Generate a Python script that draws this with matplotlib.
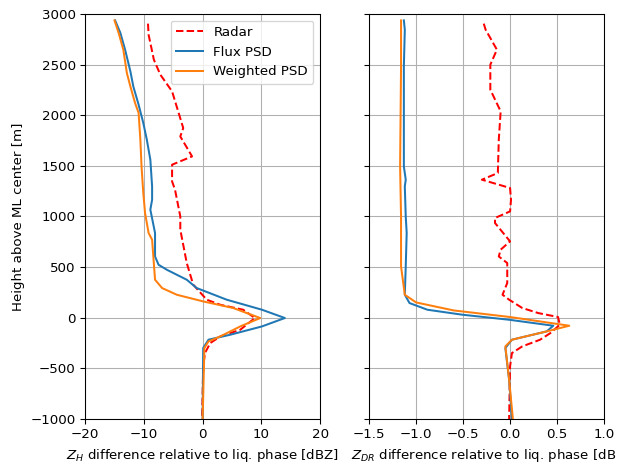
import numpy as np
import matplotlib
matplotlib.use("Agg")
import matplotlib.pyplot as plt

# ZH panel (dBZ)
h_radar_zh = [2904, 2795, 2548, 2400, 2301, 2235, 1873, 1790, 1593, 1511, 1346, 1264, 1000,
              869, 540, 326, 178, 128, 79, -3, -119, -185, -250, -349, -481, -1000]
radar_zh = [-9.3, -9.2, -8.3, -7.2, -6.0, -5.2, -3.3, -3.8, -1.8, -5.2, -5.2, -4.7, -3.8,
            -3.8, -2.7, -1.6, 0.7, 3.0, 6.9, 8.9, 6.4, 3.0, 1.3, 0.4, 0.1, -0.1]

h_flux_zh = [2936, 2812, 2647, 2433, 2284, 2104, 1923, 1758, 1560, 1297, 1165, 1067, 837,
             605, 523, 474, 375, 293, 178, 79, -3, -86, -168, -217, -299, -1000]
flux_zh = [-14.9, -14.0, -13.2, -12.3, -11.8, -10.9, -10.1, -9.5, -8.9, -8.6, -8.6, -8.9, -8.1,
           -8.1, -7.5, -6.1, -2.7, -1.0, 4.1, 10.1, 14.0, 10.1, 4.7, 1.0, 0.1, 0.0]

h_wght_zh = [2936, 2812, 2647, 2417, 2284, 2120, 2022, 1758, 1494, 1231, 1034, 837, 770,
             375, 293, 227, 161, 96, -3, -86, -185, -234, -299, -1000]
wght_zh = [-15.0, -14.3, -13.5, -12.9, -12.3, -11.5, -10.9, -10.6, -10.4, -10.1, -9.8, -9.2, -8.6,
           -8.1, -6.9, -4.4, 0.1, 5.2, 9.8, 6.4, 3.0, 1.0, 0.3, 0.0]

# ZDR panel (dB)
h_radar_zdr = [2904, 2844, 2647, 2499, 2252, 2038, 1758, 1429, 1363, 1281, 1165, 1050, 985,
               935, 754, 672, 605, 540, 343, 227, 178, 96, 46, 7, -69, -151, -217, -283,
               -349, -481, -1000]
radar_zdr = [-0.28, -0.26, -0.14, -0.21, -0.21, -0.10, -0.12, -0.13, -0.30, 0.00, 0.01, 0.00, -0.16,
             -0.16, 0.00, -0.10, -0.12, -0.03, -0.03, -0.08, -0.01, 0.13, 0.30, 0.51, 0.53, 0.43,
             0.32, 0.13, 0.02, 0.00, -0.01]

h_flux_zdr = [2936, 2844, 2482, 1494, 1363, 1297, 1000, 837, 507, 227, 145, 79, 30, -20,
              -79, -135, -217, -299, -612, -1000]
flux_zdr = [-1.13, -1.12, -1.13, -1.13, -1.11, -1.12, -1.11, -1.10, -1.11, -1.12, -1.07, -0.88,
            -0.51, -0.01, 0.46, 0.39, 0.02, -0.05, -0.01, 0.02]

h_wght_zdr = [2936, 2482, 1494, 1000, 507, 227, 151, 72, 7, -79, -135, -217, -283, -612, -1000]
wght_zdr = [-1.16, -1.16, -1.17, -1.16, -1.16, -1.12, -1.00, -0.60, 0.00, 0.63, 0.39, 0.02,
            -0.05, -0.01, 0.03]

dpi = 96.4
fig, (ax1, ax2) = plt.subplots(1, 2, sharey=True, figsize=(617 / dpi, 464 / dpi), dpi=dpi)
fig.subplots_adjust(left=0.138, right=0.979, top=0.970, bottom=0.097, wspace=0.2085)

ax1.plot(radar_zh, h_radar_zh, "r--", label="Radar")
ax1.plot(flux_zh, h_flux_zh, color="C0", label="Flux PSD")
ax1.plot(wght_zh, h_wght_zh, color="C1", label="Weighted PSD")
ax1.set_xlim(-20, 20)
ax1.set_ylim(-1000, 3000)
ax1.set_xlabel("$Z_H$ difference relative to liq. phase [dBZ]")
ax1.set_ylabel("Height above ML center [m]")
ax1.grid(True)
ax1.legend(loc="upper right")

ax2.plot(radar_zdr, h_radar_zdr, "r--", label="Radar")
ax2.plot(flux_zdr, h_flux_zdr, color="C0", label="Flux PSD")
ax2.plot(wght_zdr, h_wght_zdr, color="C1", label="Weighted PSD")
ax2.set_xlim(-1.5, 1.0)
ax2.set_xlabel("$Z_{DR}$ difference relative to liq. phase [dB]")
ax2.grid(True)
ax2.tick_params(labelleft=False)

plt.savefig("out.png", dpi=dpi)
